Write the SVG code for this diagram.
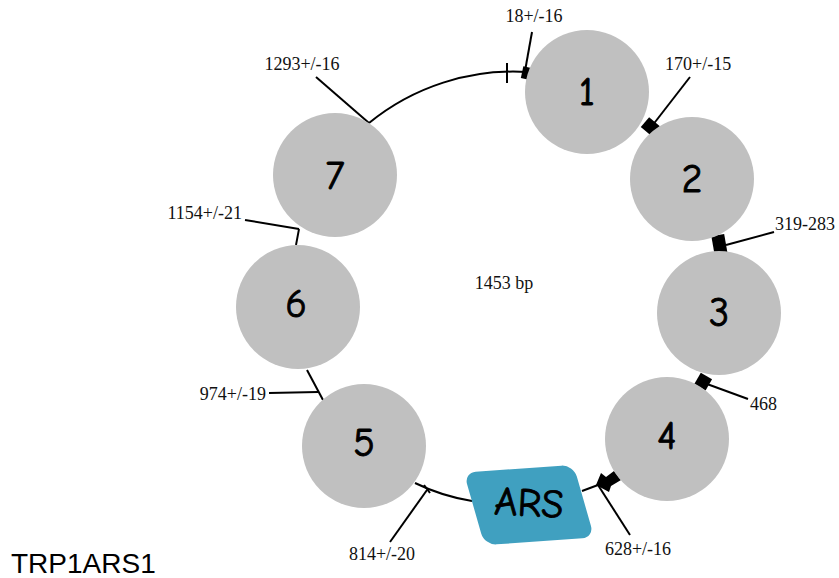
<svg xmlns="http://www.w3.org/2000/svg" width="839" height="578" viewBox="0 0 839 578">
<style>
.c{fill:#c0c0c0}
.n{font-family:"Comic Neue","DejaVu Sans",sans-serif;font-size:40px;fill:#000;stroke:#000;stroke-width:0.9;text-anchor:middle;dominant-baseline:central}
.l{font-family:"Liberation Serif","Times New Roman",serif;font-size:18px;fill:#111}
.ln{stroke:#000;stroke-width:2;fill:none}
.m{fill:#000}
</style>
<rect width="839" height="578" fill="#fff"/>
<g id="connectors">
<path class="ln" d="M369 123 A228 228 0 0 1 527 72"/>
<line class="ln" x1="507" y1="63" x2="507" y2="83"/>
<path class="ln" d="M415 483 A204 204 0 0 0 472 501"/>
<line class="ln" x1="582" y1="491" x2="598" y2="485"/>
<line class="ln" x1="532" y1="32" x2="525" y2="71"/>
<line class="ln" x1="690" y1="77" x2="652" y2="126"/>
<line class="ln" x1="726" y1="245" x2="774" y2="232"/>
<line class="ln" x1="707" y1="384" x2="748" y2="399"/>
<line class="ln" x1="598" y1="485" x2="630" y2="535"/>
<line class="ln" x1="427" y1="490" x2="390" y2="542"/>
<line class="ln" x1="424" y1="485" x2="430" y2="493"/>
<line class="ln" x1="307" y1="370" x2="323" y2="400"/>
<line class="ln" x1="269" y1="393" x2="318" y2="392"/>
<line class="ln" x1="245" y1="220" x2="299" y2="229"/>
<line class="ln" x1="299" y1="229" x2="296" y2="245"/>
<line class="ln" x1="316" y1="77" x2="369" y2="123"/>
<rect class="m" x="522" y="67" width="8" height="12" transform="rotate(12 526 73)"/>
<rect class="m" x="643" y="120" width="14" height="13" transform="rotate(40 650 127)"/>
<rect class="m" x="713" y="235" width="13" height="20" transform="rotate(-10 719 245)"/>
<rect class="m" x="697" y="375" width="13" height="13" transform="rotate(30 703 381)"/>
<polygon class="m" points="596,485 601,473 606,477 614,471 621,480 611,486 609,492"/>
</g>
<g id="n1"><circle class="c" cx="587" cy="92" r="62"/><text class="n" x="587" y="92">1</text></g>
<g id="n2"><circle class="c" cx="692" cy="179" r="62"/><text class="n" x="692" y="179">2</text></g>
<g id="n3"><circle class="c" cx="719" cy="313" r="62"/><text class="n" x="719" y="313">3</text></g>
<g id="n4"><circle class="c" cx="667" cy="439" r="62"/><text class="n" x="667" y="436">4</text></g>
<g id="n5"><circle class="c" cx="364" cy="446" r="62"/><text class="n" x="364" y="443">5</text></g>
<g id="n6"><circle class="c" cx="298" cy="307" r="62"/><text class="n" x="296" y="304">6</text></g>
<g id="n7"><circle class="c" cx="335" cy="175" r="62"/><text class="n" x="335" y="176">7</text></g>
<g id="ars">
<rect x="-55" y="-37" width="110" height="74" rx="12" fill="#40a0c0" transform="translate(529 505) rotate(-4) skewX(12)"/>
<text class="n" x="529" y="503" font-size="34" transform="rotate(3 529 503)">ARS</text>
</g>
<g id="labels">
<text class="l" x="534" y="22" text-anchor="middle">18+/-16</text>
<text class="l" x="665" y="70">170+/-15</text>
<text class="l" x="775" y="230">319-283</text>
<text class="l" x="750" y="410">468</text>
<text class="l" x="638" y="555" text-anchor="middle">628+/-16</text>
<text class="l" x="382" y="560" text-anchor="middle">814+/-20</text>
<text class="l" x="266" y="400" text-anchor="end">974+/-19</text>
<text class="l" x="242" y="219" text-anchor="end">1154+/-21</text>
<text class="l" x="302" y="70" text-anchor="middle">1293+/-16</text>
<text class="l" x="504" y="289" text-anchor="middle">1453 bp</text>
</g>
<text x="11" y="573" font-family="Liberation Sans, Arial, sans-serif" font-size="28" fill="#000">TRP1ARS1</text>
</svg>
